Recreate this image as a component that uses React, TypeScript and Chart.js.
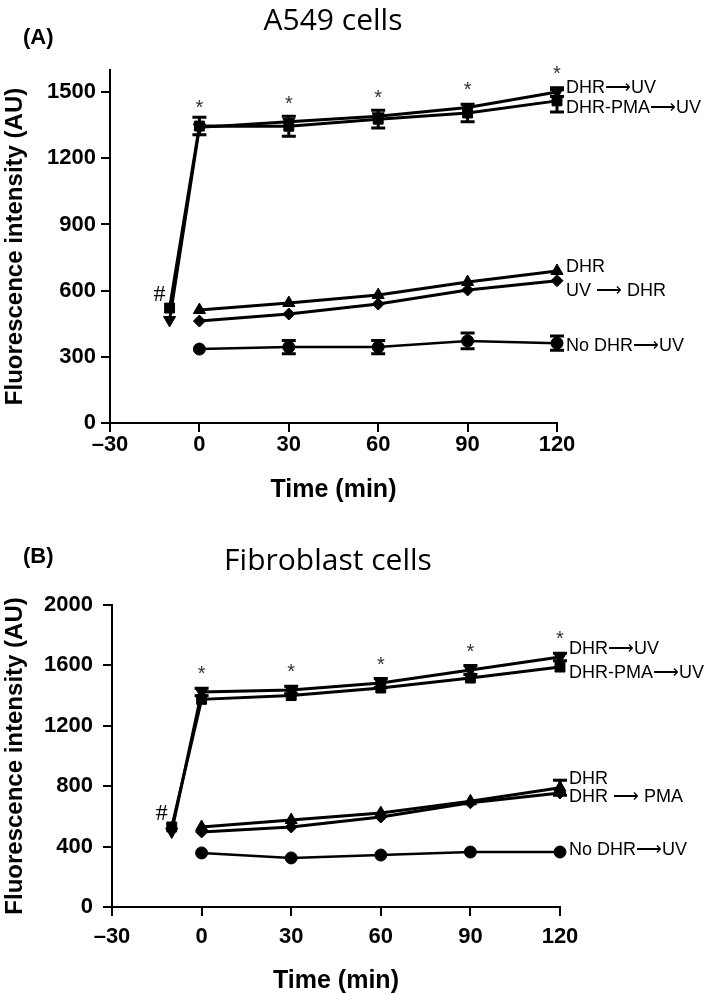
import React, { useEffect, useRef } from 'react';
import { Chart, registerables } from 'chart.js';
Chart.register(...registerables);

// ---- shared axes ----
const preTimes = [-10, 0, 30, 60, 90, 120];
const times = [0, 30, 60, 90, 120];
const xTicks = [-30, 0, 30, 60, 90, 120];
const yTicksA = [0, 300, 600, 900, 1200, 1500];
const yTicksB = [0, 400, 800, 1200, 1600, 2000];

// ---- (A) A549 cells ----
const a_dhrUv = [467, 1340, 1365, 1390, 1430, 1500];
const a_dhrUvErr = [0, 0, 0, 0, 0, 20];
const a_dhrPmaUv = [521, 1346, 1345, 1377, 1405, 1460];
const a_dhrPmaUvErr = [0, 40, 45, 40, 40, 50];
const a_dhr = [512, 544, 580, 639, 689];
const a_uvDhr = [462, 494, 539, 603, 645];
const a_noDhr = [335, 344, 344, 372, 362];
const a_noDhrErr = [0, 30, 30, 36, 32];

// ---- (B) Fibroblast cells ----
const b_dhrUv = [500, 1424, 1437, 1483, 1570, 1656];
const b_dhrUvErr = [0, 25, 25, 30, 30, 25];
const b_dhrPmaUv = [530, 1375, 1400, 1450, 1516, 1589];
const b_dhr = [530, 576, 622, 700, 790];
const b_dhrErr = [0, 0, 0, 0, 50];
const b_dhrPma = [497, 530, 596, 690, 755];
const b_noDhr = [358, 325, 344, 364, 364];

const SANS = "'Liberation Sans', Arial, sans-serif";

type Series = {
  label: string;
  x: number[];
  y: number[];
  err?: number[];
  style: string;
  rot?: number;
  r: number;
  lw: number;
  labelDy: number;
};

type PanelSpec = {
  title: string;
  letter: string;
  titleX: number;
  titleY: number;
  letterY: number;
  yMax: number;
  yTicks: number[];
  series: Series[];
  padTop: number;
  padRight: number;
  yAxisW: number;
  xAxisH: number;
  yTickPad: number;
  xTickPad: number;
};

const panelA: PanelSpec = {
  title: 'A549 cells',
  letter: '(A)',
  titleX: 333,
  titleY: 30,
  letterY: 38,
  yMax: 1600,
  yTicks: yTicksA,
  padTop: 70,
  padRight: 152,
  yAxisW: 110,
  xAxisH: 80,
  yTickPad: 5,
  xTickPad: 0,
  series: [
    { label: 'DHR⟶UV', x: preTimes, y: a_dhrUv, err: a_dhrUvErr, style: 'triangle', rot: 180, r: 7, lw: 3, labelDy: -4 },
    { label: 'DHR-PMA⟶UV', x: preTimes, y: a_dhrPmaUv, err: a_dhrPmaUvErr, style: 'rect', r: 7, lw: 3, labelDy: 7 },
    { label: 'DHR', x: times, y: a_dhr, style: 'triangle', r: 7, lw: 3, labelDy: -4 },
    { label: 'UV ⟶ DHR', x: times, y: a_uvDhr, style: 'rectRot', r: 6, lw: 3, labelDy: 10 },
    { label: 'No DHR⟶UV', x: times, y: a_noDhr, err: a_noDhrErr, style: 'circle', r: 6, lw: 2.5, labelDy: 3 },
  ],
};

const panelB: PanelSpec = {
  title: 'Fibroblast cells',
  letter: '(B)',
  titleX: 328,
  titleY: 67,
  letterY: 54,
  yMax: 2000,
  yTicks: yTicksB,
  padTop: 102,
  padRight: 149,
  yAxisW: 112,
  xAxisH: 87,
  yTickPad: 10,
  xTickPad: 8,
  series: [
    { label: 'DHR⟶UV', x: preTimes, y: b_dhrUv, err: b_dhrUvErr, style: 'triangle', rot: 180, r: 7, lw: 3, labelDy: -8 },
    { label: 'DHR-PMA⟶UV', x: preTimes, y: b_dhrPmaUv, style: 'rect', r: 7, lw: 3, labelDy: 6 },
    { label: 'DHR', x: times, y: b_dhr, err: b_dhrErr, style: 'triangle', r: 7, lw: 3, labelDy: -9 },
    { label: 'DHR ⟶ PMA', x: times, y: b_dhrPma, style: 'rectRot', r: 6, lw: 3, labelDy: 4 },
    { label: 'No DHR⟶UV', x: times, y: b_noDhr, style: 'circle', r: 6, lw: 2.5, labelDy: -2 },
  ],
};

const decorPlugin = {
  id: 'decor',
  afterDatasetsDraw(chart: any, _args: any, opts: any) {
    const ctx = chart.ctx;
    const xs = chart.scales.x;
    const ys = chart.scales.y;
    ctx.save();
    // error bars
    chart.data.datasets.forEach((ds: any) => {
      const err = ds.errs as number[] | undefined;
      if (!err) return;
      ds.data.forEach((p: any, i: number) => {
        const e = err[i];
        if (!e) return;
        const px = xs.getPixelForValue(p.x);
        const y1 = ys.getPixelForValue(p.y + e);
        const y2 = ys.getPixelForValue(p.y - e);
        ctx.strokeStyle = '#000';
        ctx.lineWidth = 3;
        ctx.beginPath();
        ctx.moveTo(px, y1);
        ctx.lineTo(px, y2);
        ctx.moveTo(px - 7, y1);
        ctx.lineTo(px + 7, y1);
        ctx.moveTo(px - 7, y2);
        ctx.lineTo(px + 7, y2);
        ctx.stroke();
      });
    });
    // stars above the highest point at each time
    ctx.fillStyle = '#333';
    ctx.font = `20px ${SANS}`;
    ctx.textAlign = 'center';
    ctx.textBaseline = 'alphabetic';
    times.forEach((t) => {
      let top = Infinity;
      chart.data.datasets.forEach((ds: any) => {
        ds.data.forEach((p: any) => {
          if (p.x === t) top = Math.min(top, ys.getPixelForValue(p.y));
        });
      });
      ctx.fillText('*', xs.getPixelForValue(t), top - 23 + 11);
    });
    // '#' next to the pre-incubation points
    let preTop = Infinity;
    let preX = 0;
    chart.data.datasets.forEach((ds: any) => {
      ds.data.forEach((p: any) => {
        if (p.x === -10) {
          preTop = Math.min(preTop, ys.getPixelForValue(p.y));
          preX = xs.getPixelForValue(p.x);
        }
      });
    });
    ctx.fillStyle = '#000';
    ctx.font = `24px 'Liberation Serif', 'Times New Roman', serif`;
    ctx.fillText('#', preX - 10, preTop - 15 + 8);
    // series labels at the right
    ctx.font = `18px ${SANS}`;
    ctx.textAlign = 'left';
    ctx.textBaseline = 'middle';
    chart.data.datasets.forEach((ds: any) => {
      const last = ds.data[ds.data.length - 1];
      const px = xs.getPixelForValue(last.x) + 9;
      const py = ys.getPixelForValue(last.y) + ds.labelDy;
      ctx.fillText(ds.seriesLabel, px, py);
    });
    // title and panel letter
    ctx.textAlign = 'center';
    ctx.textBaseline = 'alphabetic';
    ctx.font = `30px 'Open Sans', ${SANS}`;
    ctx.fillText(opts.title, opts.titleX, opts.titleY);
    ctx.textAlign = 'left';
    ctx.textBaseline = 'middle';
    ctx.font = `bold 22px ${SANS}`;
    ctx.fillText(opts.letter, 23, opts.letterY);
    ctx.restore();
  },
};

function buildConfig(spec: PanelSpec): any {
  const tickFont = { family: SANS, size: 22, weight: 'bold' };
  return {
    type: 'line',
    data: {
      datasets: spec.series.map((s) => ({
        data: s.x.map((x, i) => ({ x, y: s.y[i] })),
        errs: s.err,
        seriesLabel: s.label,
        labelDy: s.labelDy,
        borderColor: '#000',
        backgroundColor: '#000',
        borderWidth: s.lw,
        pointStyle: s.style,
        pointRotation: s.rot || 0,
        pointRadius: s.r,
        pointBorderWidth: 1,
        pointBorderColor: '#000',
        pointBackgroundColor: '#000',
        tension: 0,
        fill: false,
        clip: false,
      })),
    },
    options: {
      responsive: false,
      animation: false,
      devicePixelRatio: 1,
      layout: { padding: { left: 0, right: spec.padRight, top: spec.padTop, bottom: 0 } },
      plugins: {
        legend: { display: false },
        tooltip: { enabled: false },
        decor: { title: spec.title, letter: spec.letter, titleX: spec.titleX, titleY: spec.titleY, letterY: spec.letterY },
      },
      scales: {
        x: {
          type: 'linear',
          min: -30,
          max: 120,
          afterBuildTicks: (s: any) => {
            s.ticks = xTicks.map((v) => ({ value: v }));
          },
          afterFit: (s: any) => {
            s.height = spec.xAxisH;
          },
          grid: { display: true, drawOnChartArea: false, drawTicks: true, tickLength: 9, tickWidth: 2, tickColor: '#000', color: '#000', lineWidth: 2 },
          border: { display: true, color: '#000', width: 2 },
          ticks: {
            color: '#000',
            font: tickFont,
            padding: spec.xTickPad,
            maxRotation: 0,
            autoSkip: false,
            callback: (v: number) => (v < 0 ? '–' + Math.abs(v) : String(v)),
          },
          title: { display: true, text: 'Time (min)', color: '#000', font: { family: SANS, size: 25, weight: 'bold', lineHeight: 1 }, padding: 0 },
        },
        y: {
          type: 'linear',
          min: 0,
          max: spec.yMax,
          afterBuildTicks: (s: any) => {
            s.ticks = spec.yTicks.map((v) => ({ value: v }));
          },
          afterFit: (s: any) => {
            s.width = spec.yAxisW;
          },
          grid: { display: true, drawOnChartArea: false, drawTicks: true, tickLength: 9, tickWidth: 2, tickColor: '#000', color: '#000', lineWidth: 2 },
          border: { display: true, color: '#000', width: 2 },
          ticks: { color: '#000', font: tickFont, padding: spec.yTickPad, autoSkip: false, callback: (v: number) => String(v) },
          title: {
            display: true,
            text: 'Fluorescence intensity (AU)',
            color: '#000',
            font: { family: SANS, size: 24, weight: 'bold', lineHeight: 1 },
            padding: { top: 3, bottom: 0 },
          },
        },
      },
    },
    plugins: [decorPlugin],
  };
}

function Panel({ spec, top, height }: { spec: PanelSpec; top: number; height: number }) {
  const ref = useRef<HTMLCanvasElement>(null);
  useEffect(() => {
    const chart = new Chart(ref.current as HTMLCanvasElement, buildConfig(spec));
    return () => chart.destroy();
  }, [spec]);
  return (
    <canvas
      ref={ref}
      width={709}
      height={height}
      style={{ position: 'absolute', left: 0, top, width: 709, height, display: 'block' }}
    />
  );
}

export default function App() {
  return (
    <div style={{ position: 'absolute', left: 0, top: 0, width: 709, height: 994, background: '#fff' }}>
      <Panel spec={panelA} top={0} height={503} />
      <Panel spec={panelB} top={503} height={491} />
    </div>
  );
}
